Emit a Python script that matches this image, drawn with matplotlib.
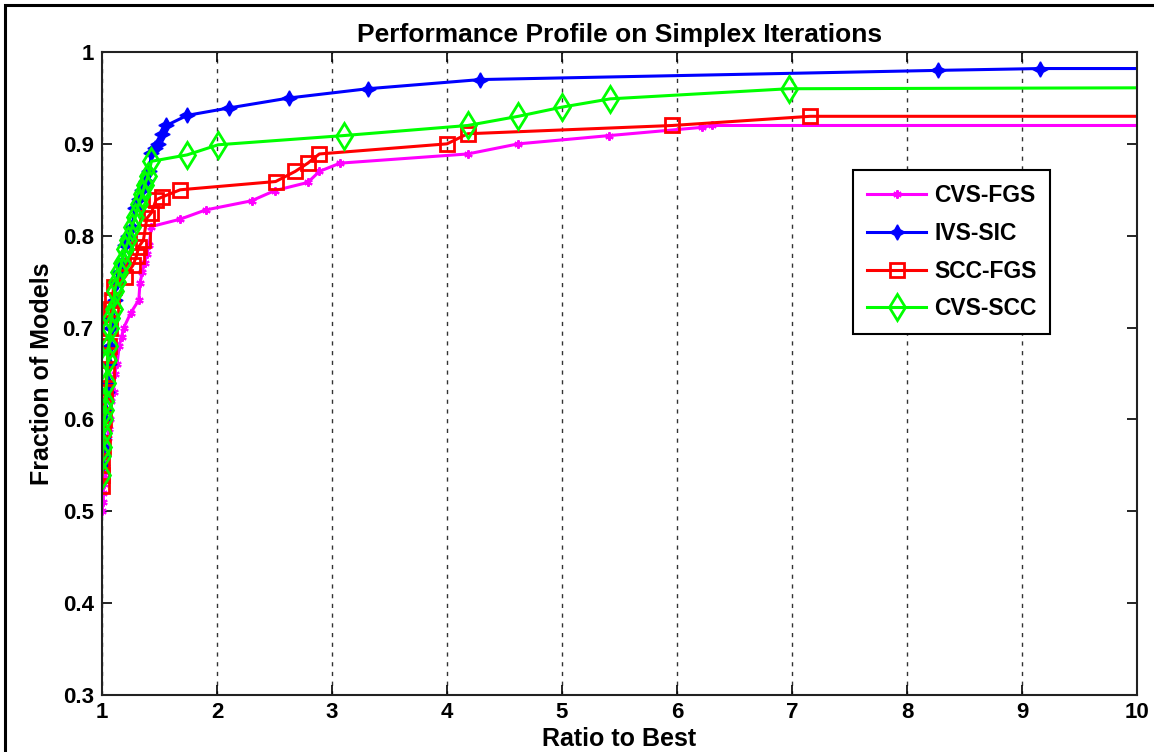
import matplotlib.pyplot as plt
from matplotlib.patches import Rectangle

plt.rcParams['font.family'] = ['Liberation Sans', 'DejaVu Sans']
plt.rcParams['font.weight'] = 'bold'

# CVS-FGS
cvs_fgs_x = [1.00, 1.01, 1.01, 1.02, 1.02, 1.03, 1.04, 1.05, 1.06, 1.07, 1.08, 1.10, 1.11, 1.13,
             1.15, 1.17, 1.19, 1.25, 1.32, 1.33, 1.35, 1.37, 1.39, 1.41, 1.43, 1.68, 1.90, 2.30,
             2.50, 2.79, 2.89, 3.07, 4.18, 4.62, 5.41, 6.22, 6.30, 10.0]
cvs_fgs_y = [0.50, 0.51, 0.52, 0.53, 0.54, 0.55, 0.57, 0.58, 0.59, 0.60, 0.62, 0.63, 0.65, 0.66,
             0.68, 0.69, 0.70, 0.716, 0.73, 0.748, 0.76, 0.77, 0.78, 0.79, 0.81, 0.818, 0.828, 0.838,
             0.849, 0.858, 0.870, 0.879, 0.889, 0.900, 0.909, 0.918, 0.920, 0.920]

# IVS-SIC
ivs_sic_x = [1.00, 1.00, 1.01, 1.01, 1.02, 1.03, 1.04, 1.05, 1.06, 1.07, 1.08, 1.09, 1.11, 1.13,
             1.15, 1.17, 1.20, 1.23, 1.26, 1.29, 1.32, 1.35, 1.38, 1.41, 1.43, 1.46, 1.49, 1.52,
             1.56, 1.74, 2.10, 2.63, 3.31, 4.29, 8.27, 9.16, 10.0]
ivs_sic_y = [0.55, 0.56, 0.57, 0.58, 0.60, 0.61, 0.63, 0.64, 0.66, 0.68, 0.70, 0.71, 0.73, 0.75,
             0.76, 0.77, 0.79, 0.80, 0.81, 0.83, 0.84, 0.85, 0.86, 0.87, 0.89, 0.895, 0.90, 0.911,
             0.92, 0.931, 0.939, 0.950, 0.960, 0.970, 0.980, 0.982, 0.982]

# SCC-FGS
scc_fgs_x = [1.00, 1.00, 1.00, 1.01, 1.01, 1.02, 1.02, 1.03, 1.04, 1.05, 1.06, 1.07, 1.08, 1.09,
             1.10, 1.20, 1.27, 1.30, 1.32, 1.36, 1.39, 1.43, 1.47, 1.52, 1.68, 2.51, 2.68, 2.79,
             2.89, 4.00, 4.18, 5.96, 7.16, 10.0]
scc_fgs_y = [0.527, 0.54, 0.55, 0.57, 0.59, 0.60, 0.62, 0.63, 0.65, 0.67, 0.68, 0.70, 0.72, 0.73,
             0.744, 0.755, 0.768, 0.778, 0.788, 0.795, 0.819, 0.825, 0.839, 0.842, 0.850, 0.859, 0.870, 0.879,
             0.889, 0.900, 0.911, 0.920, 0.930, 0.930]

# CVS-SCC
cvs_scc_x = [1.00, 1.00, 1.01, 1.01, 1.02, 1.03, 1.03, 1.04, 1.05, 1.06, 1.07, 1.08, 1.10, 1.11,
             1.13, 1.15, 1.17, 1.20, 1.23, 1.26, 1.29, 1.32, 1.35, 1.37, 1.40, 1.43, 1.74, 2.01,
             3.10, 4.18, 4.62, 5.00, 5.42, 6.97, 10.0]
cvs_scc_y = [0.54, 0.56, 0.57, 0.585, 0.60, 0.61, 0.62, 0.64, 0.665, 0.68, 0.70, 0.71, 0.72, 0.74,
             0.75, 0.76, 0.77, 0.785, 0.795, 0.81, 0.82, 0.835, 0.845, 0.855, 0.865, 0.881, 0.888, 0.899,
             0.909, 0.920, 0.930, 0.940, 0.949, 0.960, 0.961]

x_ticks = [1, 2, 3, 4, 5, 6, 7, 8, 9, 10]
y_ticks = [0.3, 0.4, 0.5, 0.6, 0.7, 0.8, 0.9, 1.0]
y_tick_labels = ['0.3', '0.4', '0.5', '0.6', '0.7', '0.8', '0.9', '1']

fig = plt.figure(figsize=(11.54, 7.52), dpi=100)
ax = fig.add_axes([102 / 1154, 1 - 695 / 752, (1137 - 102) / 1154, (695 - 52) / 752])

# outer frame (left and top edges visible)
fig.patches.append(Rectangle((5 / 1154, -0.05), 1.2, 1 - 5 / 752 + 0.05, transform=fig.transFigure,
                             fill=False, edgecolor='black', linewidth=2.2, zorder=0))


def marks(xs):
    # markers on every point except the closing point at x = 10
    return list(range(len(xs) - 1))


ax.plot(cvs_fgs_x, cvs_fgs_y, color='#ff00ff', lw=2.2, marker=(6, 2, 0), ms=6, mew=1.5,
        markevery=marks(cvs_fgs_x), label='CVS-FGS')
ax.plot(ivs_sic_x, ivs_sic_y, color='#0000ff', lw=2.2, marker=(4, 1, 0), ms=11,
        markevery=marks(ivs_sic_x), label='IVS-SIC')
ax.plot(scc_fgs_x, scc_fgs_y, color='#ff0000', lw=2.2, marker='s', ms=10.5, mfc='none', mew=2,
        markevery=marks(scc_fgs_x), label='SCC-FGS')
ax.plot(cvs_scc_x, cvs_scc_y, color='#00ff00', lw=2.2, marker='d', ms=13, mfc='none', mew=2,
        markevery=marks(cvs_scc_x), label='CVS-SCC')

ax.set_xlim(1, 10)
ax.set_ylim(0.3, 1.0)
ax.set_xticks(x_ticks)
ax.set_xticklabels([str(t) for t in x_ticks])
ax.set_yticks(y_ticks)
ax.set_yticklabels(y_tick_labels)
ax.tick_params(direction='in', top=True, right=True, length=7, width=1.2, labelsize=16)
ax.tick_params(axis='y', pad=6)
ax.tick_params(axis='x', pad=5)
ax.xaxis.grid(True, linestyle=(0, (3, 4)), color='#333333', linewidth=1)
for s in ax.spines.values():
    s.set_linewidth(1.5)
    s.set_color('#222222')

ax.set_title('Performance Profile on Simplex Iterations', fontsize=19, fontweight='bold', pad=7)
ax.set_xlabel('Ratio to Best', fontsize=18, fontweight='bold', labelpad=3)
ax.set_ylabel('Fraction of Models', fontsize=18, fontweight='bold', labelpad=6)

leg = ax.legend(loc='upper left', bbox_to_anchor=(853 / 1154, 1 - 170 / 752), bbox_transform=fig.transFigure,
                fancybox=False, framealpha=1, edgecolor='black', fontsize=16.5, handlelength=2.6,
                labelspacing=0.65, borderpad=0.6, handletextpad=0.35, borderaxespad=0)
leg.get_frame().set_linewidth(1.5)
for t in leg.get_texts():
    t.set_fontweight('bold')

fig.savefig('out.png', dpi=100)
